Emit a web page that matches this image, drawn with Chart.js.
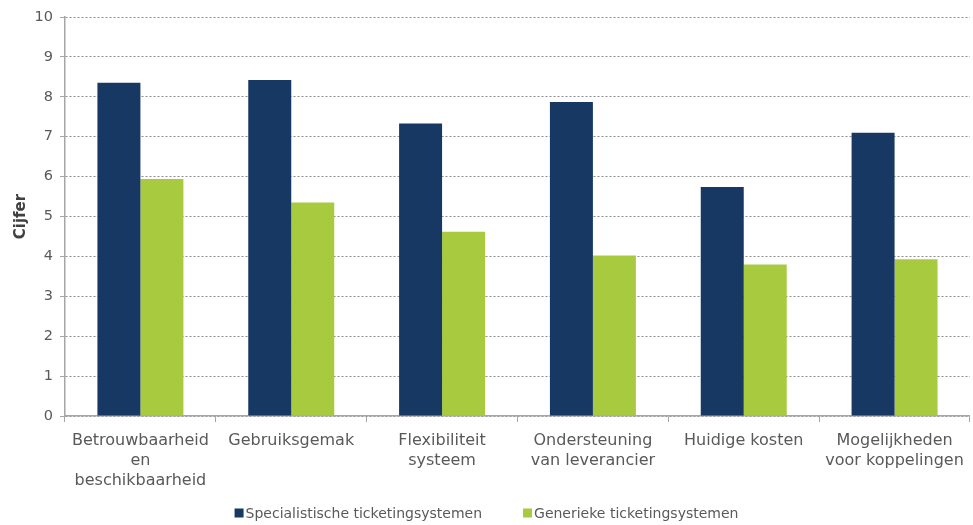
<!DOCTYPE html>
<html>
<head>
<meta charset="utf-8">
<script src="https://cdn.jsdelivr.net/npm/chart.js@4/dist/chart.umd.min.js"></script>
<style>
  html, body { margin: 0; padding: 0; background: #ffffff; }
  #wrap { width: 973px; height: 525px; position: relative; }
</style>
</head>
<body>
<div id="wrap"><canvas id="c" width="973" height="525"></canvas></div>
<script>
const categories = [
  ['Betrouwbaarheid', 'en', 'beschikbaarheid'],
  'Gebruiksgemak',
  ['Flexibiliteit', 'systeem'],
  ['Ondersteuning', 'van leverancier'],
  'Huidige kosten',
  ['Mogelijkheden', 'voor koppelingen']
];
const seriesNames = ['Specialistische ticketingsystemen', 'Generieke ticketingsystemen'];
const specialistValues = [8.35, 8.42, 7.33, 7.87, 5.74, 7.10];
const generiekValues = [5.94, 5.35, 4.62, 4.02, 3.80, 3.93];
const yTicks = [0, 1, 2, 3, 4, 5, 6, 7, 8, 9, 10];
const yTitle = 'Cijfer';

const NAVY = '#163863';
const GREEN = '#A8CA3E';
const TEXT = '#595959';
const AXIS = '#A6A6A6';

const customLegend = {
  id: 'customLegend',
  afterDraw(chart) {
    const ctx = chart.ctx;
    const ds = chart.data.datasets;
    ctx.save();
    ctx.font = '14px "DejaVu Sans", Verdana, sans-serif';
    ctx.textBaseline = 'middle';
    const box = 9, gapText = 2, gapItem = 41;
    const widths = ds.map(d => box + gapText + ctx.measureText(d.label).width);
    const total = widths.reduce((a, b) => a + b, 0) + gapItem * (ds.length - 1);
    let x = (chart.width - total) / 2;
    const yc = 514;
    ds.forEach((d, i) => {
      ctx.fillStyle = d.backgroundColor;
      ctx.fillRect(x, yc - box / 2 - 1, box, box);
      ctx.fillStyle = TEXT;
      ctx.textAlign = 'left';
      ctx.fillText(d.label, x + box + gapText, yc);
      x += widths[i] + gapItem;
    });
    ctx.restore();
  }
};

new Chart(document.getElementById('c'), {
  type: 'bar',
  data: {
    labels: categories,
    datasets: [
      { label: seriesNames[0], data: specialistValues, backgroundColor: NAVY, borderWidth: 0 },
      { label: seriesNames[1], data: generiekValues, backgroundColor: GREEN, borderWidth: 0 }
    ]
  },
  options: {
    responsive: false,
    animation: false,
    devicePixelRatio: 1,
    layout: { padding: { top: 17, right: 2, bottom: 0, left: 12 } },
    datasets: { bar: { barPercentage: 1.0, categoryPercentage: 0.57 } },
    plugins: {
      legend: { display: false },
      tooltip: { enabled: false }
    },
    scales: {
      x: {
        grid: {
          display: true,
          offset: true,
          drawOnChartArea: false,
          drawTicks: true,
          tickLength: 6,
          color: AXIS,
          tickColor: AXIS
        },
        border: { display: true, color: AXIS, width: 1.5 },
        ticks: {
          color: TEXT,
          padding: 9,
          maxRotation: 0,
          autoSkip: false,
          font: { family: '"DejaVu Sans", Verdana, sans-serif', size: 16, lineHeight: 1.25 }
        },
        afterFit(scale) { scale.height = 109; }
      },
      y: {
        min: 0,
        max: 10,
        afterBuildTicks(scale) { scale.ticks = yTicks.map(v => ({ value: v })); },
        grid: {
          display: true,
          color: '#8C8C8C',
          lineWidth: 1,
          drawTicks: true,
          tickLength: 5,
          tickColor: AXIS,
          tickBorderDash: []
        },
        border: { display: true, color: AXIS, width: 1.5, dash: [2, 2] },
        ticks: {
          color: TEXT,
          padding: 7,
          font: { family: '"DejaVu Sans", Verdana, sans-serif', size: 14.5 }
        },
        title: {
          display: true,
          text: yTitle,
          color: '#404040',
          padding: { top: 0, bottom: 4 },
          font: { family: '"DejaVu Sans", Verdana, sans-serif', size: 15, weight: 'bold' }
        },
        afterFit(scale) { scale.width = 53; }
      }
    }
  },
  plugins: [customLegend]
});
</script>
</body>
</html>
